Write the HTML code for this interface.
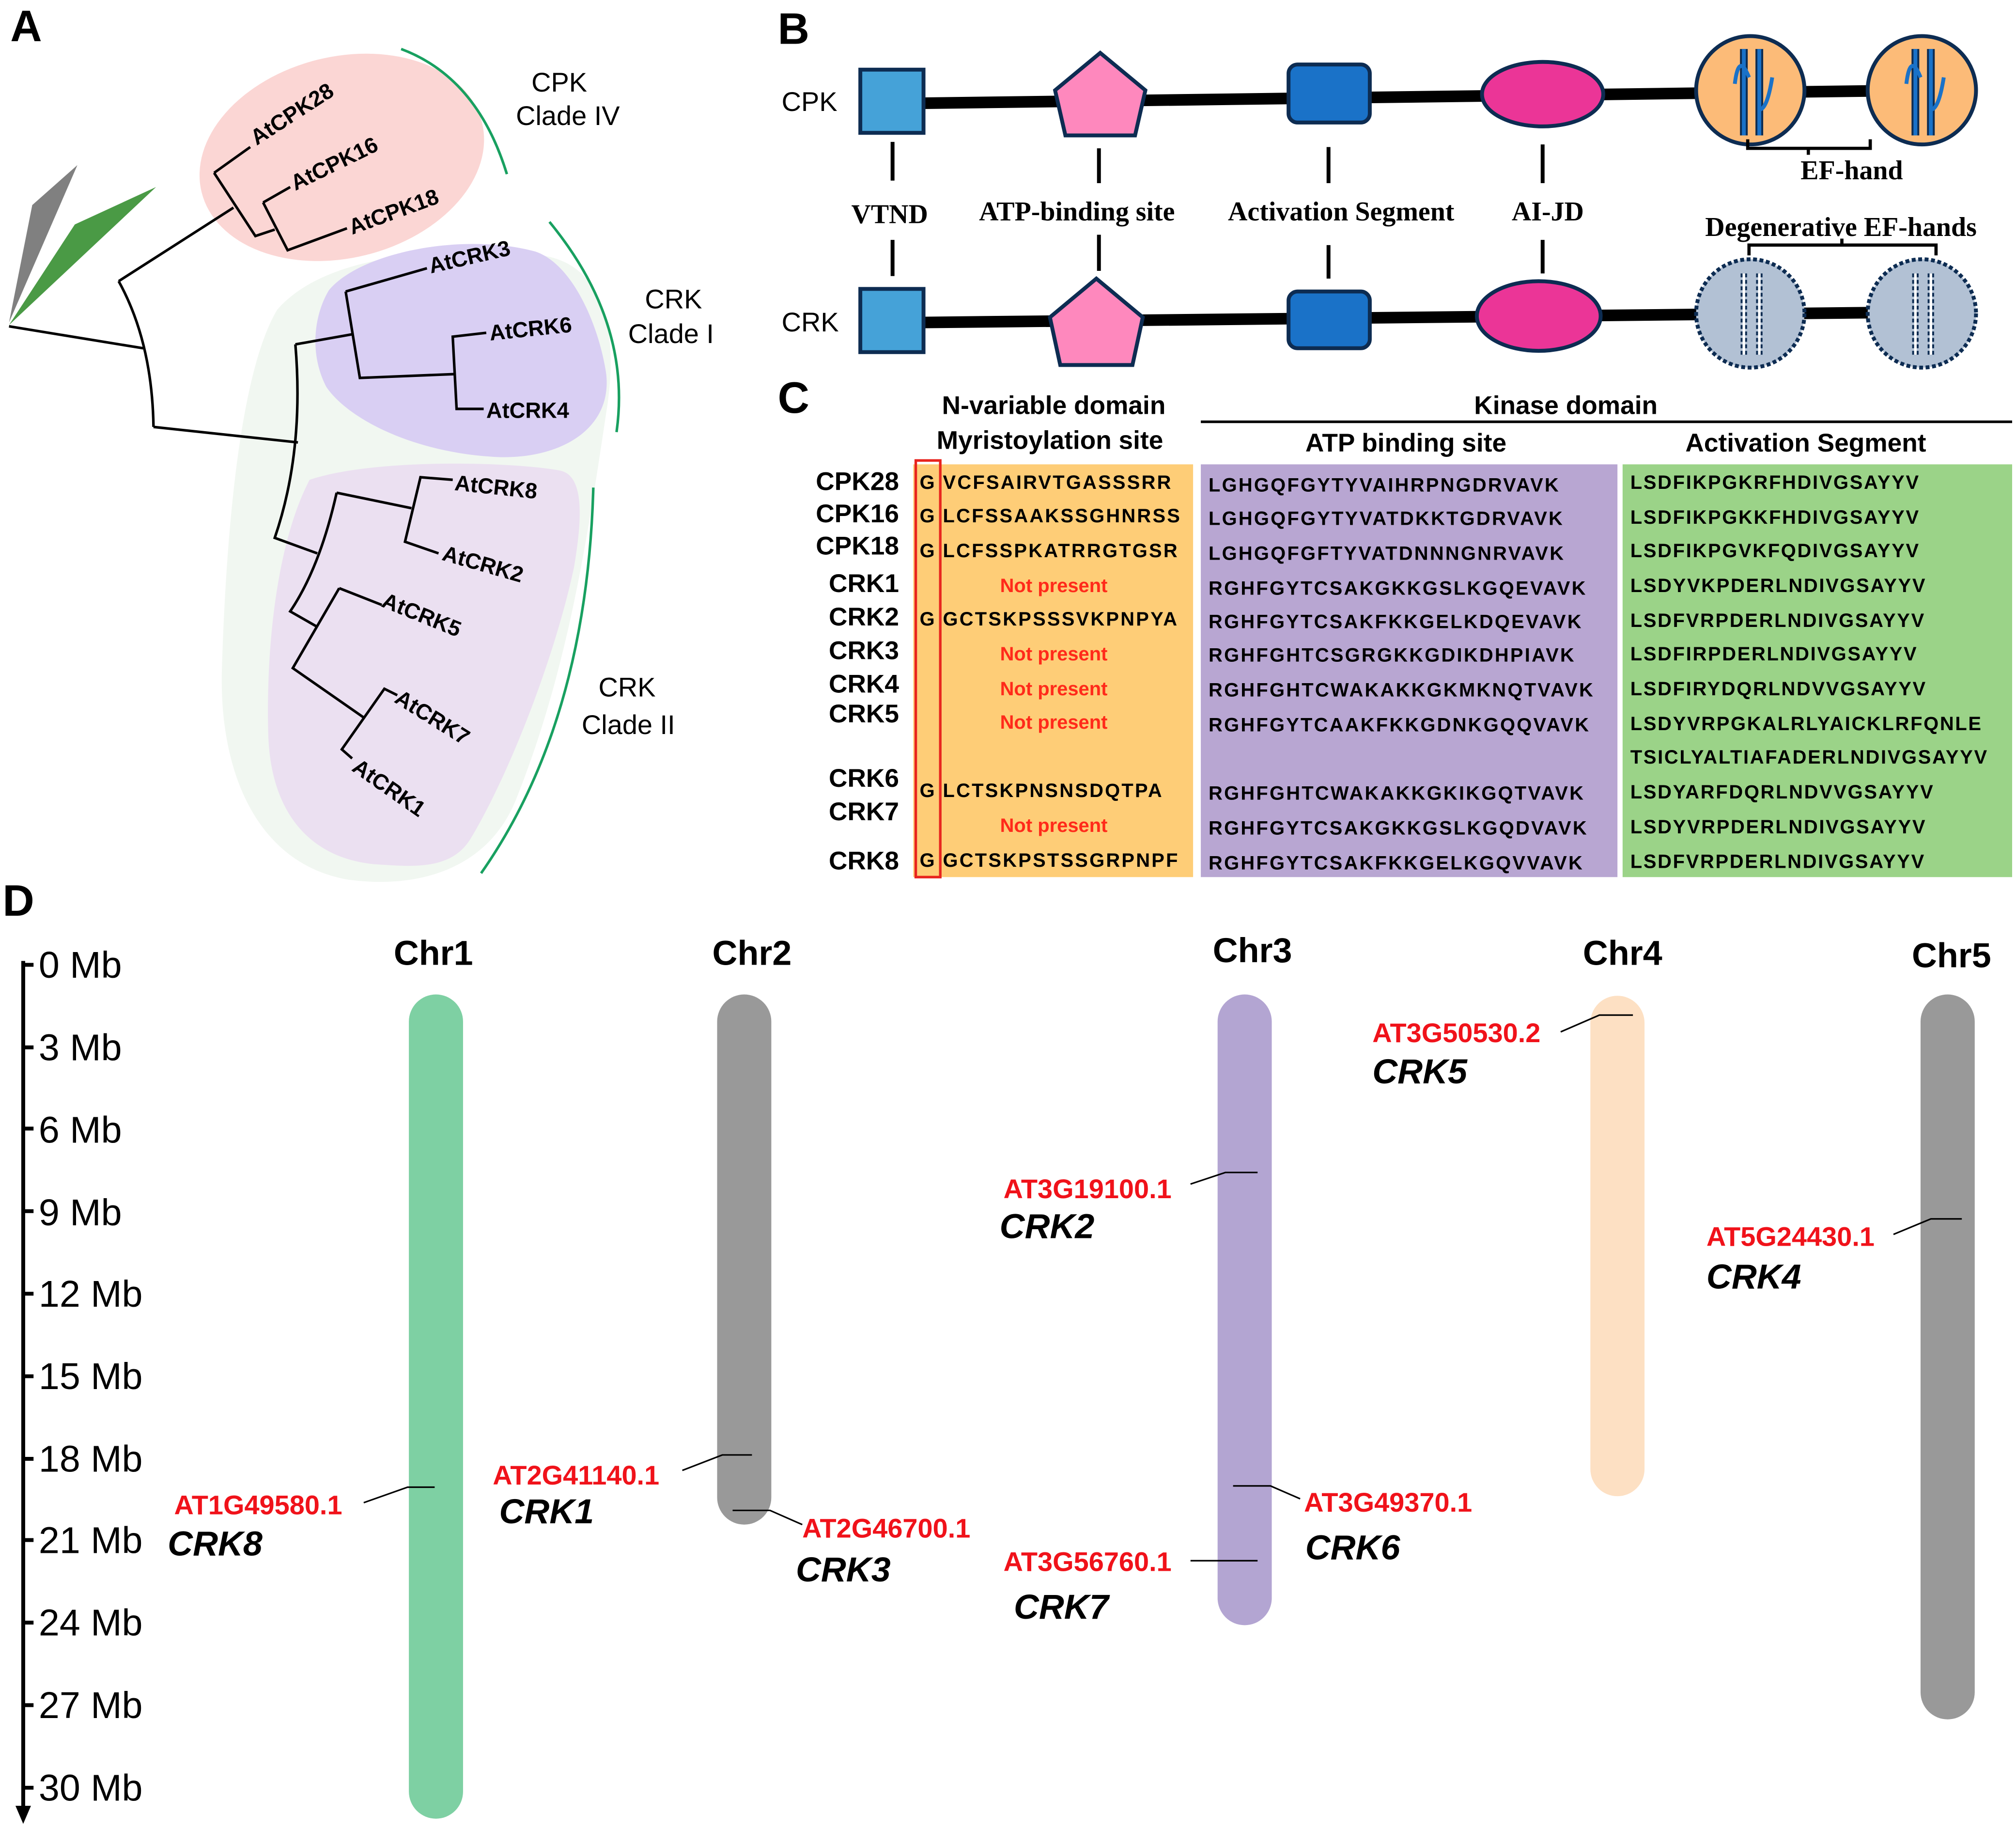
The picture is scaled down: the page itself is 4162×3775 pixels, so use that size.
<!DOCTYPE html>
<html><head><meta charset="utf-8"><style>html,body{margin:0;padding:0;background:#fff}svg{display:block}</style></head>
<body>
<svg width="4162" height="3775" viewBox="0 0 1563 1418" preserveAspectRatio="none" xmlns="http://www.w3.org/2000/svg" font-family="Liberation Sans, Arial, sans-serif">
<rect width="1563" height="1418" fill="#fff"/>
<text x="8" y="32" font-size="34" font-weight="bold">A</text>
<text x="603" y="34" font-size="34" font-weight="bold">B</text>
<text x="603" y="320" font-size="34" font-weight="bold">C</text>
<text x="2" y="710" font-size="34" font-weight="bold">D</text>

<!-- Panel A blobs -->
<path d="M215,240 C250,200 330,190 420,198 C470,205 480,260 470,320 C455,420 440,520 400,620 C380,670 330,690 270,682 C200,670 170,600 172,520 C175,420 185,290 215,240 Z" fill="#eef6ef" opacity="0.85"/>
<ellipse cx="265" cy="122" rx="112" ry="78" transform="rotate(-14 265 122)" fill="#fbd6d4"/>
<path d="M255,225 C280,195 360,180 415,195 C445,205 465,255 470,290 C475,335 430,358 380,354 C320,350 270,325 253,300 C240,275 243,245 255,225 Z" fill="#d9cff3"/>
<path d="M240,372 C290,355 400,358 435,365 C455,370 450,410 445,440 C430,510 395,600 365,650 C350,675 320,672 290,670 C240,665 210,630 208,570 C206,500 215,420 240,372 Z" fill="#ebe0f1"/>
<polygon points="7,250 60,128 25,159" fill="#808080"/>
<polygon points="7,252 121,145 58,174" fill="#4a9a45"/>
<g fill="none" stroke="#18a060" stroke-width="2">
<path d="M311,38 Q370,60 393,135"/>
<path d="M426,172 Q490,250 478,335"/>
<path d="M460,378 Q455,560 373,677"/>
</g>
<g fill="none" stroke="#000" stroke-width="2">
<path d="M7,253 L111,270"/>
<path d="M92,218 Q118,265 119,331"/>
<path d="M92,218 L181,161"/>
<path d="M166,134 L198,183 L213,178"/>
<path d="M166,134 L194,114"/>
<path d="M204,157 L223,194 L269,177"/>
<path d="M204,157 L225,145"/>
<path d="M119,331 L231,343"/>
<path d="M229,267 Q236,350 213,417 L246,429"/>
<path d="M229,267 L274,259"/>
<path d="M268,226 L279,293 L353,290"/>
<path d="M268,226 L331,208"/>
<path d="M377,258 L351,261 L354,317 L375,317"/>
<path d="M261,382 Q248,440 225,474 L246,486"/>
<path d="M261,382 L319,394"/>
<path d="M351,372 L326,370 L314,420 L340,429"/>
<path d="M263,456 L227,518 L283,557"/>
<path d="M263,456 L296,469"/>
<path d="M308,539 L298,534 L265,581 L273,588"/>
</g>
<g font-size="17" font-weight="bold">
<text transform="translate(199,113) rotate(-33)">AtCPK28</text>
<text transform="translate(229,148) rotate(-26)">AtCPK16</text>
<text transform="translate(273,182) rotate(-20)">AtCPK18</text>
<text transform="translate(334,212) rotate(-13)">AtCRK3</text>
<text transform="translate(380,264) rotate(-6)">AtCRK6</text>
<text x="377" y="324">AtCRK4</text>
<text transform="translate(352,380) rotate(6)">AtCRK8</text>
<text transform="translate(342,434) rotate(16)">AtCRK2</text>
<text transform="translate(295,470) rotate(22)">AtCRK5</text>
<text transform="translate(305,544) rotate(32)">AtCRK7</text>
<text transform="translate(272,597) rotate(35)">AtCRK1</text>
</g>
<g font-size="21">
<text x="412" y="71">CPK</text><text x="400" y="97">Clade IV</text>
<text x="500" y="239">CRK</text><text x="487" y="266">Clade I</text>
<text x="464" y="540">CRK</text><text x="451" y="569">Clade II</text>
</g>

<!-- Panel B -->
<text x="606" y="86" font-size="21">CPK</text>
<text x="606" y="257" font-size="21">CRK</text>
<line x1="717" y1="80" x2="1490" y2="70" stroke="#000" stroke-width="9"/>
<line x1="717" y1="250" x2="1490" y2="242" stroke="#000" stroke-width="9"/>
<g stroke="#0d2c52" stroke-width="3">
<rect x="667" y="54" width="49" height="49" fill="#45a2d8"/>
<rect x="667" y="224" width="49" height="49" fill="#45a2d8"/>
<polygon points="853,41 888,70 880,105 826,105 818,70" fill="#fe88bd"/>
<polygon points="850,216 886,246 878,283 822,283 814,246" fill="#fe88bd"/>
<rect x="999" y="50" width="63" height="45" rx="7" fill="#1a72c8"/>
<rect x="999" y="226" width="63" height="44" rx="7" fill="#1a72c8"/>
<ellipse cx="1196" cy="73" rx="47" ry="25" fill="#eb3597"/>
<ellipse cx="1193" cy="245" rx="48" ry="27" fill="#eb3597"/>
<circle cx="1357" cy="70" r="42" fill="#fcbb78"/>
<circle cx="1490" cy="70" r="42" fill="#fcbb78"/>
</g>
<g stroke="#0d2c52" stroke-width="3" stroke-dasharray="3,2">
<circle cx="1357" cy="243" r="42" fill="#b2c1d4"/>
<circle cx="1490" cy="243" r="42" fill="#b2c1d4"/>
</g>
<g fill="none" stroke="#0d2c52" stroke-width="6">
<path d="M1352,38 V105 M1364,38 V105"/>
<path d="M1485,38 V105 M1497,38 V105"/>
</g>
<g fill="none" stroke="#1a72c8" stroke-width="3">
<path d="M1352,38 V105 M1364,38 V105 M1345,65 Q1348,40 1356,60 M1364,85 Q1370,85 1374,60"/>
<path d="M1485,38 V105 M1497,38 V105 M1478,65 Q1481,40 1489,60 M1497,85 Q1503,85 1507,60"/>
</g>
<g fill="none" stroke="#0d2c52" stroke-width="5" stroke-dasharray="3,2">
<path d="M1352,212 V275 M1364,212 V275 M1485,212 V275 M1497,212 V275"/>
</g>
<g fill="none" stroke="#fff" stroke-width="2">
<path d="M1352,212 V275 M1364,212 V275 M1485,212 V275 M1497,212 V275"/>
</g>
<g stroke="#000" stroke-width="3">
<line x1="692" y1="110" x2="692" y2="140"/><line x1="852" y1="115" x2="852" y2="142"/>
<line x1="1030" y1="114" x2="1030" y2="142"/><line x1="1196" y1="112" x2="1196" y2="142"/>
<line x1="692" y1="186" x2="692" y2="214"/><line x1="852" y1="182" x2="852" y2="210"/>
<line x1="1030" y1="190" x2="1030" y2="216"/><line x1="1196" y1="186" x2="1196" y2="212"/>
</g>
<g fill="none" stroke="#000" stroke-width="2.5">
<path d="M1355,108 V115 H1450 V108 M1402,115 V120"/>
<path d="M1356,198 V190 H1501 V198 M1428,190 V185"/>
</g>
<g font-family="Liberation Serif, serif" font-weight="bold" font-size="21">
<text x="660" y="173">VTND</text>
<text x="759" y="171">ATP-binding site</text>
<text x="952" y="171">Activation Segment</text>
<text x="1172" y="171">AI-JD</text>
<text x="1396" y="139">EF-hand</text>
<text x="1322" y="183">Degenerative EF-hands</text>
</g>

<!-- Panel C -->
<rect x="708" y="360" width="217" height="320" fill="#fecd77"/>
<rect x="931" y="360" width="323" height="320" fill="#b8a6d2"/>
<rect x="1258" y="360" width="302" height="320" fill="#9bd388"/>
<rect x="710" y="357" width="19" height="323" fill="none" stroke="#e8251f" stroke-width="2"/>
<g font-size="20" font-weight="bold">
<text x="817" y="321" text-anchor="middle">N-variable domain</text>
<text x="814" y="348" text-anchor="middle">Myristoylation site</text>
<text x="1214" y="321" text-anchor="middle">Kinase domain</text>
<text x="1090" y="350" text-anchor="middle">ATP binding site</text>
<text x="1400" y="350" text-anchor="middle">Activation Segment</text>
</g>
<line x1="931" y1="327" x2="1560" y2="327" stroke="#000" stroke-width="2"/>
<g font-size="20" font-weight="bold" text-anchor="end">
<text x="697" y="380">CPK28</text><text x="697" y="405">CPK16</text><text x="697" y="430">CPK18</text>
<text x="697" y="459">CRK1</text><text x="697" y="485">CRK2</text><text x="697" y="511">CRK3</text>
<text x="697" y="537">CRK4</text><text x="697" y="560">CRK5</text><text x="697" y="610">CRK6</text>
<text x="697" y="636">CRK7</text><text x="697" y="674">CRK8</text>
</g>
<g font-size="15" font-weight="bold">
<text x="713" y="379">G</text><text x="713" y="405">G</text><text x="713" y="432">G</text>
<text x="713" y="485">G</text><text x="713" y="618">G</text><text x="713" y="672">G</text>
<g letter-spacing="1.2">
<text x="731" y="379">VCFSAIRVTGASSSRR</text>
<text x="731" y="405">LCFSSAAKSSGHNRSS</text>
<text x="731" y="432">LCFSSPKATRRGTGSR</text>
<text x="731" y="485">GCTSKPSSSVKPNPYA</text>
<text x="731" y="618">LCTSKPNSNSDQTPA</text>
<text x="731" y="672">GCTSKPSTSSGRPNPF</text>
<text x="937" y="381">LGHGQFGYTYVAIHRPNGDRVAVK</text>
<text x="937" y="407">LGHGQFGYTYVATDKKTGDRVAVK</text>
<text x="937" y="434">LGHGQFGFTYVATDNNNGNRVAVK</text>
<text x="937" y="461">RGHFGYTCSAKGKKGSLKGQEVAVK</text>
<text x="937" y="487">RGHFGYTCSAKFKKGELKDQEVAVK</text>
<text x="937" y="513">RGHFGHTCSGRGKKGDIKDHPIAVK</text>
<text x="937" y="540">RGHFGHTCWAKAKKGKMKNQTVAVK</text>
<text x="937" y="567">RGHFGYTCAAKFKKGDNKGQQVAVK</text>
<text x="937" y="620">RGHFGHTCWAKAKKGKIKGQTVAVK</text>
<text x="937" y="647">RGHFGYTCSAKGKKGSLKGQDVAVK</text>
<text x="937" y="674">RGHFGYTCSAKFKKGELKGQVVAVK</text>
</g>
<g letter-spacing="1">
<text x="1264" y="379">LSDFIKPGKRFHDIVGSAYYV</text>
<text x="1264" y="406">LSDFIKPGKKFHDIVGSAYYV</text>
<text x="1264" y="432">LSDFIKPGVKFQDIVGSAYYV</text>
<text x="1264" y="459">LSDYVKPDERLNDIVGSAYYV</text>
<text x="1264" y="486">LSDFVRPDERLNDIVGSAYYV</text>
<text x="1264" y="512">LSDFIRPDERLNDIVGSAYYV</text>
<text x="1264" y="539">LSDFIRYDQRLNDVVGSAYYV</text>
<text x="1264" y="566">LSDYVRPGKALRLYAICKLRFQNLE</text>
<text x="1264" y="592">TSICLYALTIAFADERLNDIVGSAYYV</text>
<text x="1264" y="619">LSDYARFDQRLNDVVGSAYYV</text>
<text x="1264" y="646">LSDYVRPDERLNDIVGSAYYV</text>
<text x="1264" y="673">LSDFVRPDERLNDIVGSAYYV</text>
</g>
<g fill="#ff2a1a" text-anchor="middle">
<text x="817" y="459">Not present</text><text x="817" y="512">Not present</text>
<text x="817" y="539">Not present</text><text x="817" y="565">Not present</text>
<text x="817" y="645">Not present</text>
</g>
</g>

<!-- Panel D -->
<line x1="18" y1="745" x2="18" y2="1403" stroke="#000" stroke-width="3"/>
<polygon points="12,1400 24,1400 18,1414" fill="#000"/>
<g stroke="#000" stroke-width="3">
<line x1="18" y1="748" x2="26" y2="748"/><line x1="18" y1="812" x2="26" y2="812"/>
<line x1="18" y1="875" x2="26" y2="875"/><line x1="18" y1="939" x2="26" y2="939"/>
<line x1="18" y1="1003" x2="26" y2="1003"/><line x1="18" y1="1067" x2="26" y2="1067"/>
<line x1="18" y1="1131" x2="26" y2="1131"/><line x1="18" y1="1194" x2="26" y2="1194"/>
<line x1="18" y1="1258" x2="26" y2="1258"/><line x1="18" y1="1322" x2="26" y2="1322"/>
<line x1="18" y1="1386" x2="26" y2="1386"/>
</g>
<g font-size="29">
<text x="30" y="758">0 Mb</text><text x="30" y="822">3 Mb</text><text x="30" y="886">6 Mb</text>
<text x="30" y="950">9 Mb</text><text x="30" y="1013">12 Mb</text><text x="30" y="1077">15 Mb</text>
<text x="30" y="1141">18 Mb</text><text x="30" y="1204">21 Mb</text><text x="30" y="1268">24 Mb</text>
<text x="30" y="1332">27 Mb</text><text x="30" y="1396">30 Mb</text>
</g>
<g font-size="27" font-weight="bold" text-anchor="middle">
<text x="336" y="748">Chr1</text><text x="583" y="748">Chr2</text><text x="971" y="746">Chr3</text>
<text x="1258" y="748">Chr4</text><text x="1513" y="750">Chr5</text>
</g>
<rect x="317" y="771" width="42" height="639" rx="21" fill="#7ed0a3"/>
<rect x="556" y="771" width="42" height="411" rx="21" fill="#999"/>
<rect x="944" y="771" width="42" height="489" rx="21" fill="#b3a5d2"/>
<rect x="1233" y="772" width="42" height="388" rx="21" fill="#fde0c3"/>
<rect x="1489" y="771" width="42" height="562" rx="21" fill="#999"/>
<g stroke="#000" stroke-width="1.2" fill="none">
<path d="M282,1165 L316,1153 H337"/>
<path d="M529,1140 L560,1128 H583"/>
<path d="M622,1182 L597,1171 H568"/>
<path d="M923,918 L950,909 H975"/>
<path d="M923,1210 H975"/>
<path d="M1008,1162 L985,1152 H956"/>
<path d="M1210,800 L1240,787 H1266"/>
<path d="M1468,957 L1497,945 H1521"/>
</g>
<g font-size="21" font-weight="bold" fill="#f0121a">
<text x="135" y="1174">AT1G49580.1</text>
<text x="382" y="1151">AT2G41140.1</text>
<text x="622" y="1192">AT2G46700.1</text>
<text x="778" y="929">AT3G19100.1</text>
<text x="778" y="1218">AT3G56760.1</text>
<text x="1011" y="1172">AT3G49370.1</text>
<text x="1064" y="808">AT3G50530.2</text>
<text x="1323" y="966">AT5G24430.1</text>
</g>
<g font-size="27" font-weight="bold" font-style="italic">
<text x="130" y="1206">CRK8</text>
<text x="387" y="1181">CRK1</text>
<text x="617" y="1226">CRK3</text>
<text x="775" y="960">CRK2</text>
<text x="786" y="1255">CRK7</text>
<text x="1012" y="1209">CRK6</text>
<text x="1064" y="840">CRK5</text>
<text x="1323" y="999">CRK4</text>
</g>
</svg>
</body></html>
